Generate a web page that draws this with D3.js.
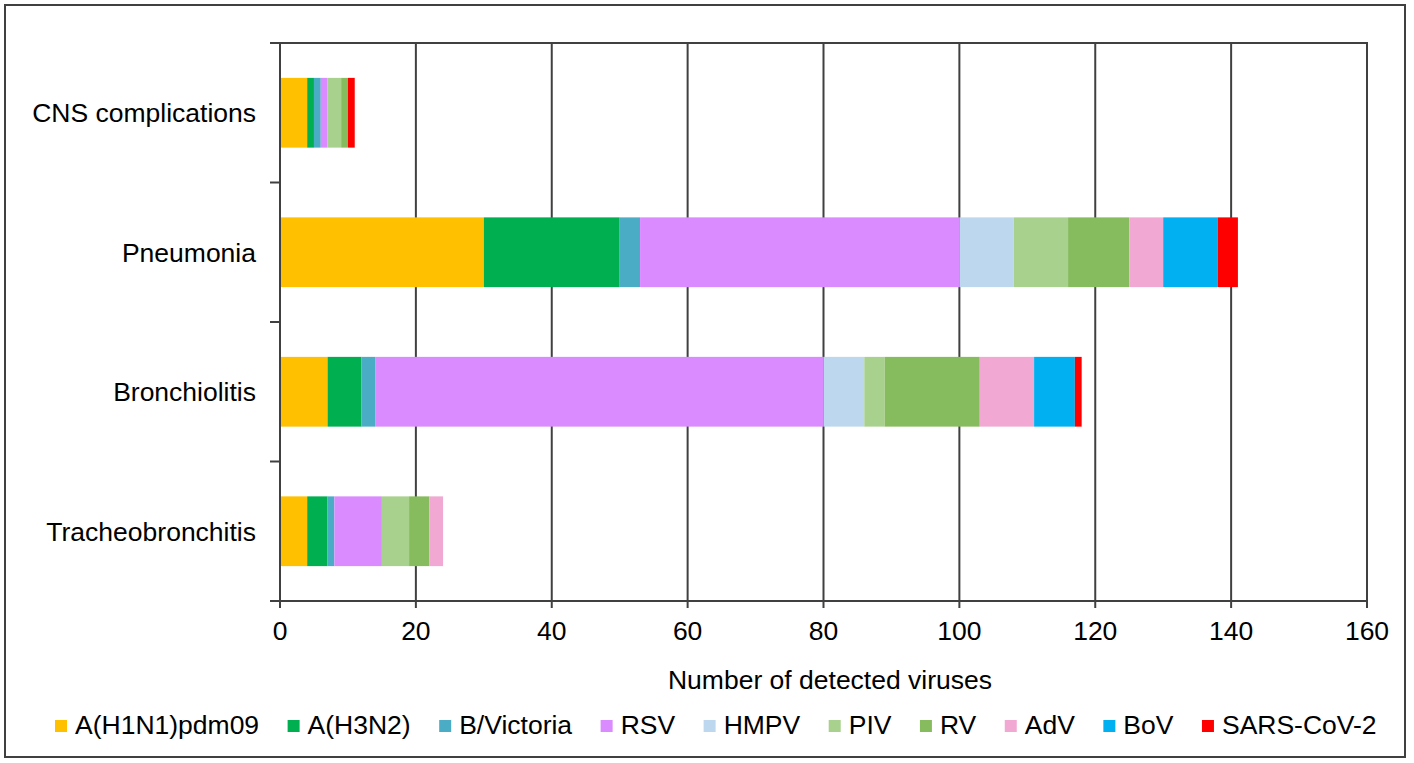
<!DOCTYPE html>
<html>
<head>
<meta charset="utf-8">
<script src="https://cdn.jsdelivr.net/npm/d3@7"></script>
<style>
  body { margin: 0; background: #fff; }
  text { font-family: "Liberation Sans", Arial, sans-serif; fill: #000; }
</style>
</head>
<body>
<script>
// categories (top to bottom)
const categories = ["CNS complications", "Pneumonia", "Bronchiolitis", "Tracheobronchitis"];
const viruses = ["A(H1N1)pdm09", "A(H3N2)", "B/Victoria", "RSV", "HMPV", "PIV", "RV", "AdV", "BoV", "SARS-CoV-2"];
const colorList = ["#FFC000", "#00B050", "#4BACC6", "#D98BFF", "#BDD7EE", "#A9D18E", "#86BC5E", "#F1A9D3", "#00B0F0", "#FF0000"];

// counts per virus, in the order of categories
const h1n1 = [4, 30, 7, 4];
const h3n2 = [1, 20, 5, 3];
const bvic = [1, 3, 2, 1];
const rsv = [1, 47, 66, 7];
const hmpv = [0, 8, 6, 0];
const piv = [2, 8, 3, 4];
const rv = [1, 9, 14, 3];
const adv = [0, 5, 8, 2];
const bov = [0, 8, 6, 0];
const sars = [1, 3, 1, 0];

const xTicks = [0, 20, 40, 60, 80, 100, 120, 140, 160];

const series = [h1n1, h3n2, bvic, rsv, hmpv, piv, rv, adv, bov, sars];
const table = categories.map((c, i) => {
  const row = { cat: c };
  viruses.forEach((v, j) => row[v] = series[j][i]);
  return row;
});

const w = 1414, h = 763;
const mLeft = 280, mRight = 1367, mTop = 43, mBottom = 601;
const lineColor = "#404040";
const fontSize = 26.5;

const svg = d3.select("body").append("svg")
  .attr("width", w).attr("height", h);

// outer frame
svg.append("rect")
  .attr("x", 5).attr("y", 5)
  .attr("width", 1400).attr("height", 752)
  .attr("fill", "none").attr("stroke", lineColor).attr("stroke-width", 2);

const x = d3.scaleLinear().domain([0, 160]).range([mLeft, mRight]);
const y = d3.scaleBand().domain(categories).range([mTop, mBottom])
  .paddingInner(0.5).paddingOuter(0.25);
const color = d3.scaleOrdinal().domain(viruses).range(colorList);

// vertical grid lines
svg.append("g").selectAll("line")
  .data(xTicks.filter(t => t > 0)).enter()
  .append("line")
  .attr("x1", d => x(d)).attr("x2", d => x(d))
  .attr("y1", mTop).attr("y2", mBottom)
  .attr("stroke", lineColor).attr("stroke-width", 2);

// top border of plot
svg.append("line")
  .attr("x1", mLeft - 10).attr("x2", mRight + 1)
  .attr("y1", mTop).attr("y2", mTop)
  .attr("stroke", lineColor).attr("stroke-width", 2);

// stacked bars
const stacked = d3.stack().keys(viruses)(table);
svg.append("g").selectAll("g")
  .data(stacked).enter()
  .append("g")
  .attr("fill", d => color(d.key))
  .selectAll("rect")
  .data(d => d).enter()
  .append("rect")
  .attr("x", d => x(d[0]))
  .attr("y", d => y(d.data.cat))
  .attr("width", d => x(d[1]) - x(d[0]))
  .attr("height", y.bandwidth());

// y axis with boundary ticks
const yBounds = d3.range(categories.length + 1).map(i => mTop + i * (mBottom - mTop) / categories.length);
svg.append("line")
  .attr("x1", mLeft).attr("x2", mLeft)
  .attr("y1", mTop).attr("y2", mBottom)
  .attr("stroke", lineColor).attr("stroke-width", 2);
svg.append("g").selectAll("line")
  .data(yBounds).enter()
  .append("line")
  .attr("x1", mLeft - 10).attr("x2", mLeft)
  .attr("y1", d => d).attr("y2", d => d)
  .attr("stroke", lineColor).attr("stroke-width", 2);

svg.append("g").selectAll("text")
  .data(categories).enter()
  .append("text")
  .attr("x", 256)
  .attr("y", d => y(d) + y.bandwidth() / 2)
  .attr("dy", "0.35em")
  .attr("text-anchor", "end")
  .attr("font-size", fontSize)
  .text(d => d);

// x axis
svg.append("line")
  .attr("x1", mLeft - 10).attr("x2", mRight + 1)
  .attr("y1", mBottom).attr("y2", mBottom)
  .attr("stroke", lineColor).attr("stroke-width", 2);
svg.append("g").selectAll("line")
  .data(xTicks).enter()
  .append("line")
  .attr("x1", d => x(d)).attr("x2", d => x(d))
  .attr("y1", mBottom).attr("y2", mBottom + 7)
  .attr("stroke", lineColor).attr("stroke-width", 2);
svg.append("g").selectAll("text")
  .data(xTicks).enter()
  .append("text")
  .attr("x", d => x(d))
  .attr("y", 640)
  .attr("text-anchor", "middle")
  .attr("font-size", fontSize)
  .text(d => d);

svg.append("text")
  .attr("x", 830).attr("y", 689)
  .attr("text-anchor", "middle")
  .attr("font-size", fontSize)
  .text("Number of detected viruses");

// legend
const items = svg.append("g").selectAll("g")
  .data(viruses).enter()
  .append("g");
items.append("rect")
  .attr("width", 12).attr("height", 12)
  .attr("y", -14)
  .attr("fill", d => color(d));
items.append("text")
  .attr("x", 20)
  .attr("font-size", fontSize)
  .text(d => d);

let pos = 55;
items.each(function() {
  const g = d3.select(this);
  g.attr("transform", `translate(${pos},734)`);
  pos += 20 + g.select("text").node().getComputedTextLength() + 28.5;
});
</script>
</body>
</html>
